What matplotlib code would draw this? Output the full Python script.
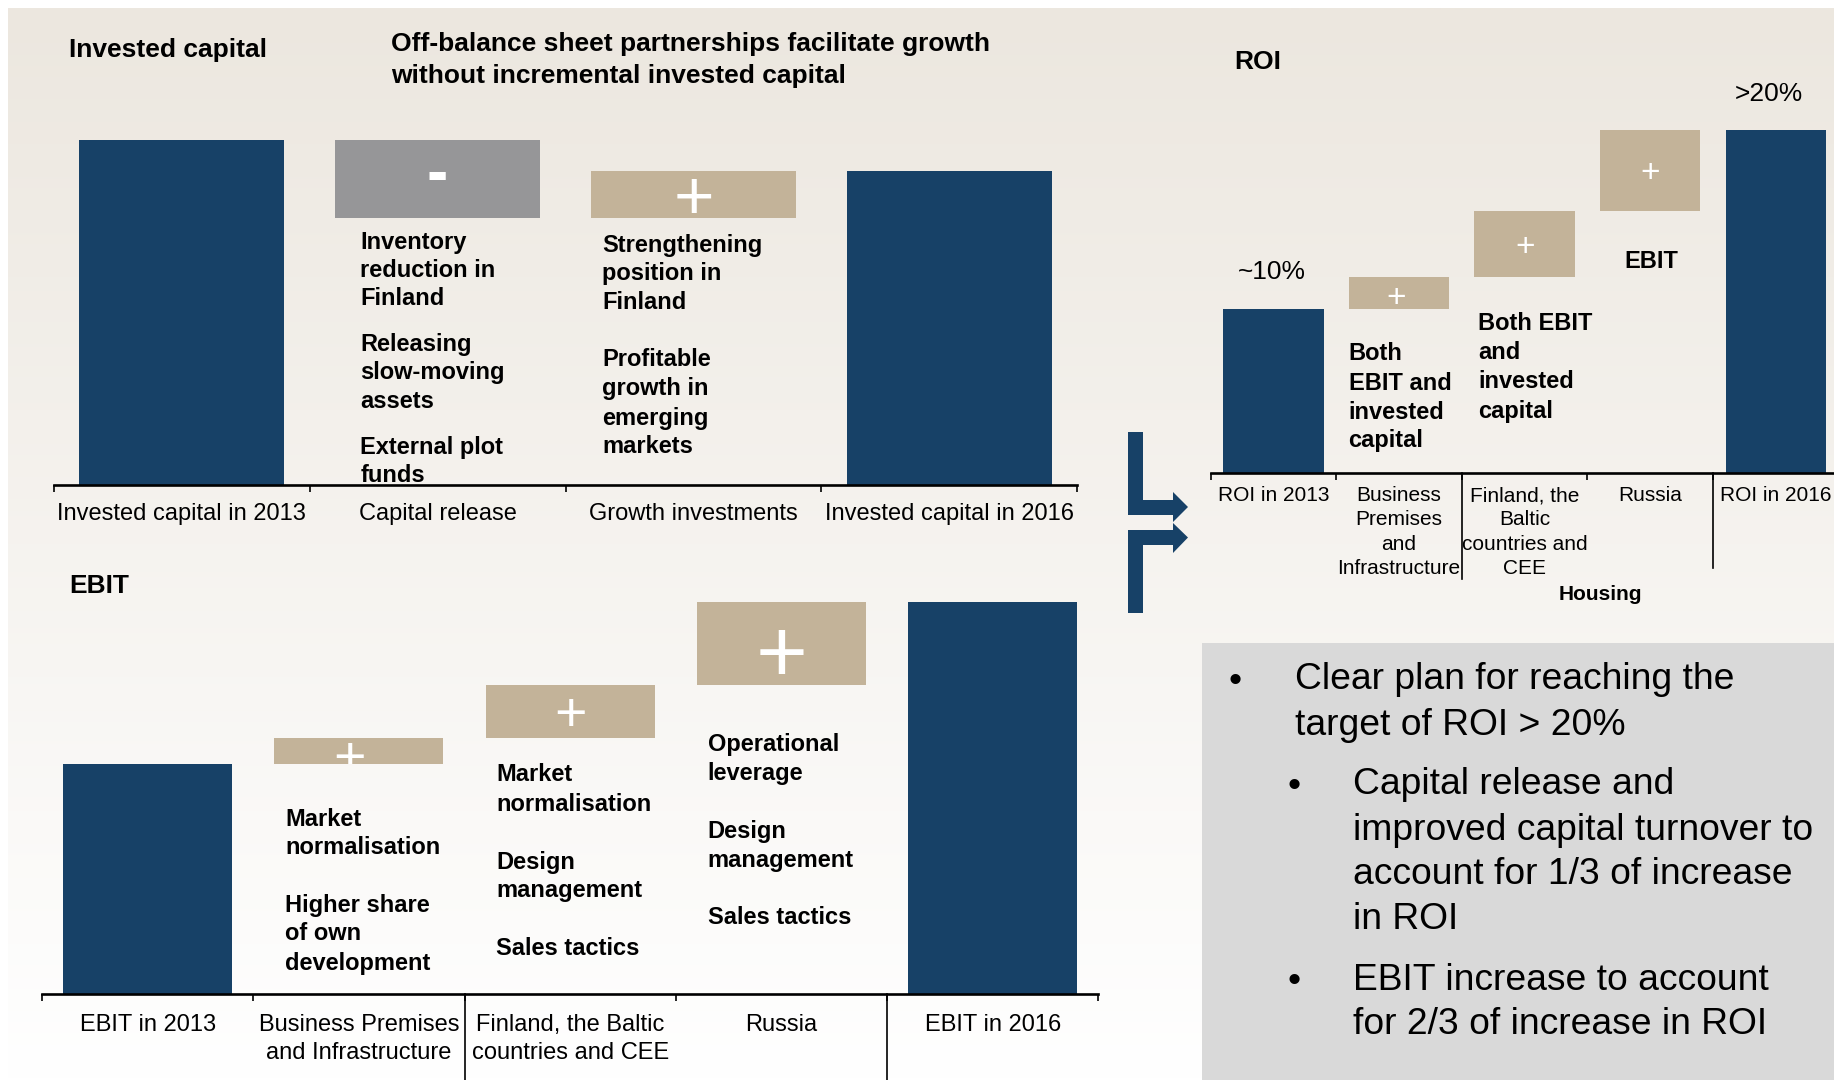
import numpy as np
import matplotlib
matplotlib.use("Agg")
import matplotlib.pyplot as plt
from matplotlib.patches import Polygon, Rectangle
import matplotlib.transforms as mtransforms

plt.rcParams['font.family'] = ['Liberation Sans', 'DejaVu Sans']

# ---------------- data ----------------
ic_labels = ["Invested capital in 2013", "Capital release", "Growth investments",
             "Invested capital in 2016"]
ic_start = 100.0
ic_deltas = [-22.4, 13.6]
ic_end = 91.2

ebit_labels = ["EBIT in 2013", "Business Premises\nand Infrastructure",
               "Finland, the Baltic\ncountries and CEE", "Russia", "EBIT in 2016"]
ebit_start = 100.0
ebit_deltas = [11.2, 22.8, 36.0]
ebit_end = 170.0

roi_labels = ["ROI in 2013", "Business\nPremises\nand\nInfrastructure",
              "Finland, the\nBaltic\ncountries and\nCEE", "Russia", "ROI in 2016"]
roi_start = 10.0
roi_deltas = [2.0, 4.0, 5.0]
roi_end = 21.0
roi_value_labels = ["~10%", ">20%"]

# ---------------- style ----------------
W, H = 1834, 1080
S = W / 1568.0
NAVY = '#174167'
TAN = '#c3b399'
GRAY = '#969698'

fig = plt.figure(figsize=(W / 100, H / 100), dpi=100, facecolor='white')

# background / overlay axes in pixel coordinates
bg = fig.add_axes([0, 0, 1, 1], zorder=0)
bg.set_xlim(0, W)
bg.set_ylim(H, 0)
bg.axis('off')
top_c = np.array([236, 231, 223]) / 255.0
bot_c = np.array([255, 255, 255]) / 255.0
t = np.linspace(0, 1, 256)[:, None, None]
grad = top_c[None, None, :] * (1 - t) + bot_c[None, None, :] * t
bg.imshow(grad, extent=(8, W, H, 8), aspect='auto', interpolation='bilinear', zorder=0)

# grey bullet box
bg.add_patch(Rectangle((1028 * S, 550 * S), W - 1028 * S, H - 550 * S,
                       facecolor='#d9d9d9', edgecolor='none', zorder=1))

# bracket arrows
upper = [(1128, 432), (1143, 432), (1143, 500), (1173, 500), (1173, 492),
         (1188, 507), (1173, 522), (1173, 515), (1128, 515)]
lower = [(1128, 613), (1143, 613), (1143, 545), (1173, 545), (1173, 553),
         (1188, 537.5), (1173, 523), (1173, 530), (1128, 530)]
for poly in (upper, lower):
    bg.add_patch(Polygon(poly, closed=True, facecolor=NAVY, edgecolor='none', zorder=2))


def px_axes(left, top, right, bottom):
    return fig.add_axes([left / W, 1 - bottom / H, (right - left) / W, (bottom - top) / H],
                        zorder=2)


def txt_lines(x, centers, texts, size, weight='bold', ha='left'):
    em = size * 100 / 72.0
    for yc, s in zip(centers, texts):
        bg.text(x * S, yc * S + 0.35 * em, s, fontsize=size, fontweight=weight,
                ha=ha, va='baseline', color='black', zorder=3)


def style_axes(ax, n, top, label_size, pad, linesp):
    ax.set_facecolor('none')
    ax.set_xlim(-0.5, n - 0.5)
    ax.set_ylim(0, top)
    for sp in ('left', 'right', 'top'):
        ax.spines[sp].set_visible(False)
    ax.spines['bottom'].set_linewidth(1.9)
    ax.spines['bottom'].set_color('black')
    ax.set_yticks([])
    ax.set_xticks(np.arange(-0.5, n), minor=True)
    ax.tick_params(axis='x', which='minor', length=5, width=1.2, direction='out',
                   color='black')
    ax.tick_params(axis='x', which='major', length=0, pad=pad, labelsize=label_size)
    for tl in ax.get_xticklabels():
        tl.set_linespacing(linesp)


def waterfall(ax, start, deltas, end, labels, colors, signs, sign_sizes, sign_weights,
              sign_offsets):
    n = len(deltas) + 2
    ax.bar(0, start, width=0.8, color=NAVY, zorder=2)
    level = start
    for i, d in enumerate(deltas, start=1):
        bottom = level + min(d, 0)
        bars = ax.bar(i, abs(d), bottom=bottom, width=0.8, color=colors[i - 1], zorder=2)
        fs = sign_sizes[i - 1]
        k = 0.26 if signs[i - 1] == '-' else 0.355
        dx, dy = sign_offsets[i - 1]
        a = ax.annotate(signs[i - 1], xy=(i, bottom + abs(d) / 2), xytext=(dx, -k * fs + dy),
                        textcoords='offset points', ha='center', va='baseline',
                        fontsize=fs, fontweight=sign_weights[i - 1], color='white', zorder=3)
        a.set_clip_path(bars[0])
        level += d
    ax.bar(n - 1, end, width=0.8, color=NAVY, zorder=2)
    ax.set_xticks(np.arange(n))
    ax.set_xticklabels(labels)


# ---------------- Invested capital ----------------
ax1 = px_axes(46 * S, 120 * S, 921 * S, 415 * S)
waterfall(ax1, ic_start, ic_deltas, ic_end, ic_labels, [GRAY, TAN], ['-', '+'],
          [46, 50], ['bold', 'normal'], [(0, 2), (0, 0)])
style_axes(ax1, 4, ic_start, 17, 13, 1.2)

# ---------------- EBIT ----------------
ax2 = px_axes(36 * S, 515 * S, 939 * S, 850 * S)
waterfall(ax2, ebit_start, ebit_deltas, ebit_end, ebit_labels, [TAN, TAN, TAN],
          ['+', '+', '+'], [40, 40, 64], ['normal'] * 3, [(-6.5, -3), (0, 0), (0, -5)])
style_axes(ax2, 5, ebit_end, 17, 14, 1.37)
tr2 = mtransforms.blended_transform_factory(ax2.transData, ax2.transAxes)
for xb in (1.5, 3.5):
    ax2.plot([xb, xb], [0, -0.25], transform=tr2, color='black', lw=1.2, clip_on=False)

# ---------------- ROI ----------------
ax3 = px_axes(1035 * S, 111 * S, 1572 * S, 404 * S)
waterfall(ax3, roi_start, roi_deltas, roi_end, roi_labels, [TAN, TAN, TAN],
          ['+', '+', '+'], [24, 24, 24], ['normal'] * 3, [(-2, -1.5), (0, 0), (0, 0)])
style_axes(ax3, 5, roi_end, 15, 9.7, 1.36)
tr3 = mtransforms.blended_transform_factory(ax3.transData, ax3.transAxes)
ax3.plot([1.5, 1.5], [0, -0.311], transform=tr3, color='black', lw=1.2, clip_on=False)
ax3.plot([3.5, 3.5], [0, -0.279], transform=tr3, color='black', lw=1.2, clip_on=False)
ax3.annotate(roi_value_labels[0], xy=(0, roi_start), xytext=(-1, 22), textcoords='offset points',
             ha='center', va='baseline', fontsize=19)
ax3.annotate(roi_value_labels[1], xy=(4, roi_end), xytext=(-5, 20.5), textcoords='offset points',
             ha='center', va='baseline', fontsize=19)

# ---------------- titles & annotations ----------------
txt_lines(59, [41], ["Invested capital"], 19)
txt_lines(334, [36, 63], ["Off-balance sheet partnerships facilitate growth",
                          "without incremental invested capital"], 19)
txt_lines(59, [499], ["EBIT"], 19)
txt_lines(1055, [51], ["ROI"], 19)

txt_lines(308, [206, 230, 254, 293, 317, 342, 381, 405],
          ["Inventory", "reduction in", "Finland", "Releasing", "slow-moving", "assets",
           "External plot", "funds"], 17)
txt_lines(515, [208, 232, 257, 306, 331, 356, 380],
          ["Strengthening", "position in", "Finland", "Profitable", "growth in",
           "emerging", "markets"], 17)

txt_lines(244, [699, 723, 773, 797, 822],
          ["Market", "normalisation", "Higher share", "of own", "development"], 17)
txt_lines(424, [661, 686, 736, 760, 809],
          ["Market", "normalisation", "Design", "management", "Sales tactics"], 17)
txt_lines(605, [635, 660, 709, 734, 783],
          ["Operational", "leverage", "Design", "management", "Sales tactics"], 17)

txt_lines(1153, [301, 326, 351, 375], ["Both", "EBIT and", "invested", "capital"], 17)
txt_lines(1264, [275, 300, 325, 350], ["Both EBIT", "and", "invested", "capital"], 17)
txt_lines(1412, [222], ["EBIT"], 17, ha='center')
txt_lines(1368, [507], ["Housing"], 15, ha='center')

# bullets
BS = 26.8
txt_lines(1050, [580], ["\u2022"], BS, weight='normal')
txt_lines(1107, [578, 617], ["Clear plan for reaching the", "target of ROI > 20%"], BS,
          weight='normal')
txt_lines(1101, [669, 836], ["\u2022", "\u2022"], BS, weight='normal')
txt_lines(1157, [668, 707, 745, 783],
          ["Capital release and", "improved capital turnover to",
           "account for 1/3 of increase", "in ROI"], BS, weight='normal')
txt_lines(1157, [835, 873], ["EBIT increase to account", "for 2/3 of increase in ROI"], BS,
          weight='normal')

fig.savefig("out.png", dpi=100, facecolor='white')
